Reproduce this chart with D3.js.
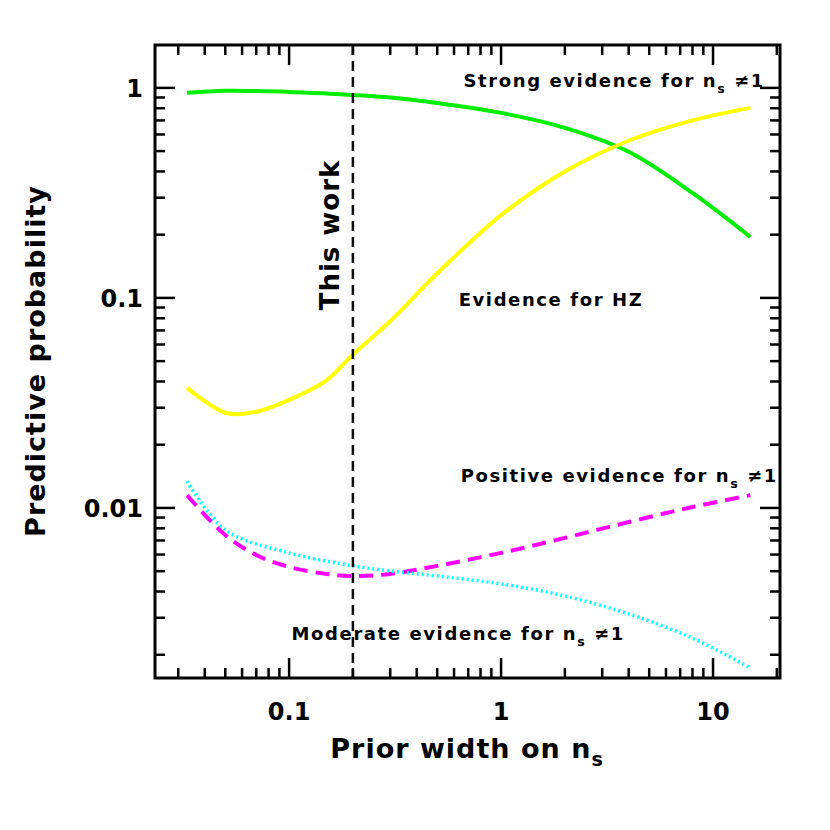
<!DOCTYPE html><html><head><meta charset="utf-8"><script src="https://cdn.jsdelivr.net/npm/d3@7"></script>
<style>body{margin:0;background:#fff}text{font-family:"DejaVu Sans",sans-serif;font-weight:bold}</style></head><body>
<svg id="c" width="830" height="830"></svg>
<script>
const xs=[0.033,0.05,0.07,0.1,0.15,0.2,0.3,0.5,1,2,4,8,15];
const green=[0.947,0.968,0.965,0.957,0.94,0.926,0.9,0.848,0.760,0.645,0.496,0.316,0.195];
const yellow=[0.0373,0.0284,0.0287,0.0327,0.0405,0.0537,0.0776,0.131,0.248,0.400,0.560,0.700,0.803];
const magenta=[0.0115,0.00743,0.00597,0.00524,0.00485,0.00474,0.00485,0.00530,0.00611,0.00720,0.00857,0.0101,0.0115];
const cyanX=[0.033,0.05,0.1,0.2,0.3,0.5,1,2,4,8,15];
const cyan=[0.0134,0.00786,0.00611,0.00530,0.00501,0.00474,0.00435,0.00381,0.00313,0.00240,0.00173];
const yTicks=[1,0.1,0.01], yTickLabels=["1","0.1","0.01"];
const xTicks=[0.1,1,10], xTickLabels=["0.1","1","10"];
const L=155,R=780,T=45,B=678;
const x=d3.scaleLog().domain([0.0233,20.7]).range([L,R]);
const y=d3.scaleLog().domain([0.00155,1.6]).range([B,T]);
const svg=d3.select("#c");
svg.append("rect").attr("x",L).attr("y",T).attr("width",R-L).attr("height",B-T).attr("fill","none").attr("stroke","#000").attr("stroke-width",3);
const xMin=[];for(let e=-2;e<=1;e++)for(let k=1;k<10;k++){const v=k*10**e;if(v>0.0233&&v<20.7)xMin.push(v);}
const yMin=[];for(let e=-3;e<=0;e++)for(let k=1;k<10;k++){const v=k*10**e;if(v>0.00155&&v<1.6)yMin.push(v);}
xMin.forEach(v=>{const big=xTicks.some(t=>Math.abs(t-v)<1e-9);const len=big?20:10;
 [[B,-1],[T,1]].forEach(([yy,s])=>svg.append("line").attr("x1",x(v)).attr("x2",x(v)).attr("y1",yy).attr("y2",yy+s*len).attr("stroke","#000").attr("stroke-width",2.5));});
yMin.forEach(v=>{const big=yTicks.some(t=>Math.abs(t-v)<1e-9);const len=big?20:10;
 [[L,1],[R,-1]].forEach(([xx,s])=>svg.append("line").attr("y1",y(v)).attr("y2",y(v)).attr("x1",xx).attr("x2",xx+s*len).attr("stroke","#000").attr("stroke-width",2.5));});
xTicks.forEach((t,i)=>svg.append("text").attr("x",x(t)).attr("y",B+42).attr("text-anchor","middle").attr("font-size",24).text(xTickLabels[i]));
yTicks.forEach((t,i)=>svg.append("text").attr("x",L-12).attr("y",y(t)+9).attr("text-anchor","end").attr("font-size",24).text(yTickLabels[i]));
const line=(X,Y)=>d3.line().curve(d3.curveCatmullRom).x((d,i)=>x(X[i])).y(d=>y(d))(Y);
svg.append("path").attr("d",line(xs,green)).attr("fill","none").attr("stroke","#00ee00").attr("stroke-width",4);
svg.append("path").attr("d",line(xs,yellow)).attr("fill","none").attr("stroke","#ffff00").attr("stroke-width",4);
svg.append("path").attr("d",line(xs,magenta)).attr("fill","none").attr("stroke","#ff00ff").attr("stroke-width",4).attr("stroke-dasharray","14,8");
svg.append("path").attr("d",line(cyanX,cyan)).attr("fill","none").attr("stroke","#00ffff").attr("stroke-width",3.5).attr("stroke-dasharray","2,3");
svg.append("line").attr("x1",x(0.2)).attr("x2",x(0.2)).attr("y1",T).attr("y2",B).attr("stroke","#000").attr("stroke-width",2.5).attr("stroke-dasharray","10,6");
svg.append("text").attr("transform",`translate(${x(0.2)-14},235) rotate(-90)`).attr("text-anchor","middle").attr("font-size",26).attr("letter-spacing",1).text("This work");
function lab(tx,ty,pre,size){const t=svg.append("text").attr("x",tx).attr("y",ty).attr("font-size",size).attr("letter-spacing",1.6).attr("text-anchor","end");
 t.append("tspan").text(pre+"n");t.append("tspan").attr("dy",6).attr("font-size",size*0.7).text("s");t.append("tspan").attr("dy",-6).text(" ≠1");return t;}
lab(765,87,"Strong evidence for ",18);
svg.append("text").attr("x",551).attr("y",306).attr("text-anchor","middle").attr("font-size",18).attr("letter-spacing",1.6).text("Evidence for HZ");
lab(778,482,"Positive evidence for ",18);
lab(625,640,"Moderate evidence for ",18);
const xl=svg.append("text").attr("x",467).attr("y",758).attr("text-anchor","middle").attr("font-size",27).attr("letter-spacing",1);
xl.append("tspan").text("Prior width on n");xl.append("tspan").attr("dy",8).attr("font-size",19).text("s");
svg.append("text").attr("transform","translate(45,361) rotate(-90)").attr("text-anchor","middle").attr("font-size",27).attr("letter-spacing",1).text("Predictive probability");
</script></body></html>
